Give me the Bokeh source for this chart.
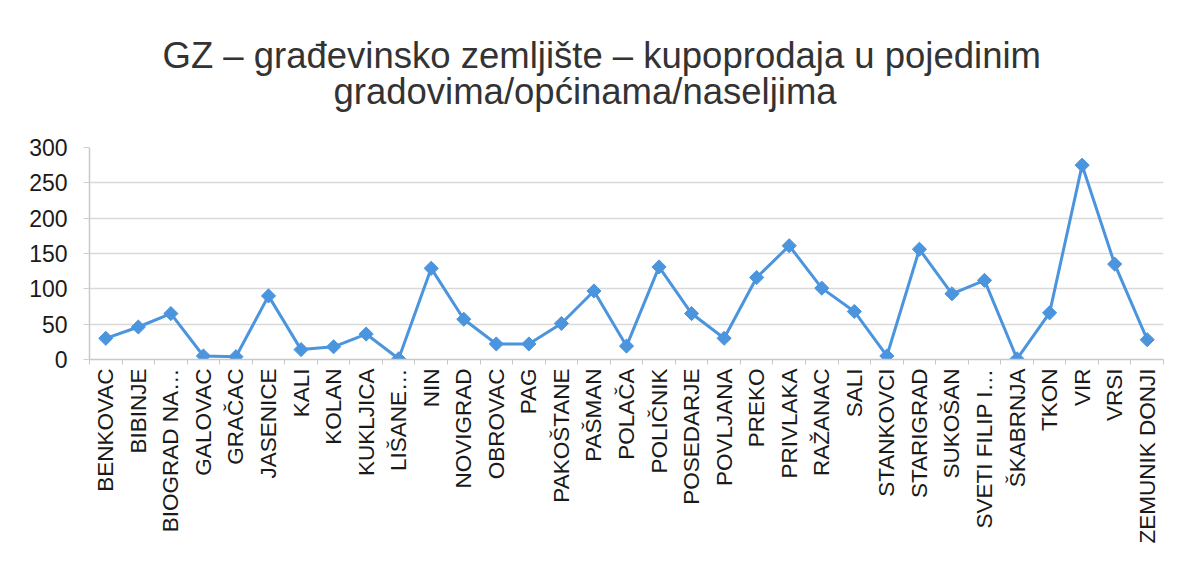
from bokeh.plotting import figure
from bokeh.models import Range1d, FixedTicker, Title, LinearAxis
from bokeh.embed import file_html
from bokeh.resources import INLINE
import math

categories = ["BENKOVAC", "BIBINJE", "BIOGRAD NA…", "GALOVAC", "GRAČAC", "JASENICE", "KALI",
              "KOLAN", "KUKLJICA", "LIŠANE…", "NIN", "NOVIGRAD", "OBROVAC", "PAG", "PAKOŠTANE",
              "PAŠMAN", "POLAČA", "POLIČNIK", "POSEDARJE", "POVLJANA", "PREKO", "PRIVLAKA",
              "RAŽANAC", "SALI", "STANKOVCI", "STARIGRAD", "SUKOŠAN", "SVETI FILIP I…", "ŠKABRNJA",
              "TKON", "VIR", "VRSI", "ZEMUNIK DONJI"]
values = [30, 46, 65, 5, 4, 90, 14, 18, 36, 1, 129, 57, 22, 22, 51, 97, 19, 131, 65, 30,
          116, 161, 101, 68, 5, 156, 93, 112, 1, 66, 275, 135, 28]
y_ticks = [0, 50, 100, 150, 200, 250, 300]
title_lines = ["GZ – građevinsko zemljište – kupoprodaja u  pojedinim", "gradovima/općinama/naseljima"]

n = len(categories)
xs = [i + 0.5 for i in range(n)]

FONT = "Liberation Sans"
BLUE = "#4B94DE"

p = figure(width=1166, height=548, output_backend="svg", toolbar_location=None,
           x_range=Range1d(0, n), y_range=Range1d(0, 300),
           min_border_left=89, min_border_right=3, min_border_top=147, min_border_bottom=189,
           x_axis_type=None)
p.title = None
p.outline_line_color = None
p.background_fill_color = "white"
p.border_fill_color = "white"

xaxis = LinearAxis(ticker=FixedTicker(ticks=xs, minor_ticks=list(range(n + 1))))
xaxis.major_label_overrides = {x: c for x, c in zip(xs, categories)}
xaxis.major_label_orientation = math.pi / 2
xaxis.major_label_text_font = FONT
xaxis.major_label_text_font_size = "22.5px"
xaxis.major_label_text_color = "#1a1a1a"
xaxis.major_label_standoff = 4
xaxis.major_tick_line_color = None
xaxis.major_tick_out = 0
xaxis.major_tick_in = 0
xaxis.minor_tick_out = 5
xaxis.minor_tick_in = 0
xaxis.minor_tick_line_color = "#c8c8c8"
xaxis.axis_line_color = "#c8c8c8"
xaxis.axis_line_width = 1.5
p.add_layout(xaxis, "below")

ya = p.yaxis[0]
ya.ticker = FixedTicker(ticks=y_ticks)
ya.major_label_text_font = FONT
ya.major_label_text_font_size = "23px"
ya.major_label_text_color = "#1a1a1a"
ya.major_label_standoff = 16
ya.major_tick_out = 6
ya.major_tick_in = 0
ya.major_tick_line_color = "#d0d0d0"
ya.minor_tick_line_color = None
ya.axis_line_color = "#c8c8c8"
ya.axis_line_width = 1.5

p.ygrid.ticker = FixedTicker(ticks=y_ticks)
p.ygrid.grid_line_color = "#d9d9d9"
p.ygrid.grid_line_width = 1.5
p.xgrid.grid_line_color = None

p.line(xs, values, line_color=BLUE, line_width=3)
p.scatter(xs, values, marker="square", angle=math.pi / 4, size=10, fill_color=BLUE, line_color=BLUE)

# spacer between the title block and the plot frame
p.add_layout(Title(text=" ", text_font_size="1px", standoff=33), "above")
for t, so, off in zip(reversed(title_lines), [0, -14], [244, 73]):
    p.add_layout(Title(text=t, align="left", offset=off, standoff=so,
                       text_font=FONT, text_font_size="36.5px", text_font_style="normal",
                       text_color="#333333"), "above")

open("out.html", "w").write(file_html(p, INLINE))
